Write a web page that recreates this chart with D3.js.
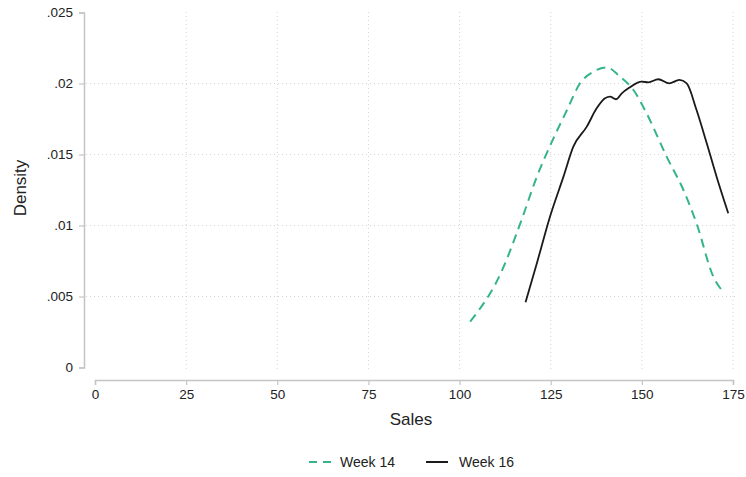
<!DOCTYPE html>
<html>
<head>
<meta charset="utf-8">
<script src="https://cdn.jsdelivr.net/npm/d3@7"></script>
<style>
body { margin: 0; background: #fff; }
text { font-family: "Liberation Sans", Arial, sans-serif; }
</style>
</head>
<body>
<svg id="chart"></svg>
<script>
var xTicks = [0, 25, 50, 75, 100, 125, 150, 175];
var yTicks = [0, 0.005, 0.01, 0.015, 0.02, 0.025];
var yTickLabels = ["0", ".005", ".01", ".015", ".02", ".025"];

var week14Sales = [102.9, 111.5, 117.0, 121.2, 124.8, 129.4, 133.0, 136.7, 140.4, 144.0, 147.7, 151.3, 156.8, 161.4, 165.0, 169.6, 172.5];
var week14Density = [0.00323, 0.00675, 0.01039, 0.01344, 0.0156, 0.0181, 0.0200, 0.02083, 0.02114, 0.02048, 0.01954, 0.0179, 0.01485, 0.0125, 0.01015, 0.0064, 0.00527];

var week16Sales = [118.1, 121.2, 124.8, 128.5, 131.2, 134.9, 137.6, 139.9, 141.3, 142.9, 144.5, 146.3, 150.0, 151.8, 154.5, 157.5, 160.3, 162.3, 165.0, 167.8, 170.5, 173.7];
var week16Density = [0.00459, 0.00734, 0.01062, 0.01344, 0.01555, 0.01696, 0.01825, 0.01896, 0.01907, 0.01889, 0.01931, 0.01966, 0.02013, 0.02008, 0.0203, 0.02001, 0.02025, 0.02001, 0.01813, 0.01579, 0.01344, 0.01086];

function drawChart() {
    var width = 746, height = 477;
    var svg = d3.select("#chart").attr("width", width).attr("height", height);

    var x = d3.scaleLinear().domain([0, 175]).range([95, 733]);
    var y = d3.scaleLinear().domain([0, 0.025]).range([367.5, 12.5]);

    var axisColor = "#c4c4c4";
    var gridColor = "#d4d4d4";

    // grid
    svg.append("g").selectAll("line").data(yTicks.slice(1, 5)).enter().append("line")
        .attr("x1", 86).attr("x2", 736)
        .attr("y1", function(d) { return y(d); }).attr("y2", function(d) { return y(d); })
        .attr("stroke", gridColor).attr("stroke-width", 1).attr("stroke-dasharray", "1,3");
    svg.append("g").selectAll("line").data(xTicks.slice(1)).enter().append("line")
        .attr("x1", function(d) { return x(d); }).attr("x2", function(d) { return x(d); })
        .attr("y1", 12).attr("y2", 370)
        .attr("stroke", gridColor).attr("stroke-width", 1).attr("stroke-dasharray", "1,3");

    // y axis
    var yAxis = d3.axisLeft(y).tickValues(yTicks)
        .tickFormat(function(d, i) { return yTickLabels[i]; })
        .tickSize(5).tickPadding(6);
    var gy = svg.append("g").attr("transform", "translate(84,0)").call(yAxis);

    // x axis
    var xAxis = d3.axisBottom(x).tickValues(xTicks).tickSize(5).tickPadding(4);
    var gx = svg.append("g").attr("transform", "translate(0,380)").call(xAxis);

    [gx, gy].forEach(function(g) {
        g.select(".domain").attr("stroke", axisColor).attr("stroke-width", 1.5);
        g.selectAll(".tick line").attr("stroke", axisColor).attr("stroke-width", 1.2);
        g.selectAll(".tick text").attr("fill", "#222").attr("font-size", 13.5)
            .style("font-family", "'Liberation Sans', Arial, sans-serif");
    });

    // axis titles
    svg.append("text").attr("x", 411).attr("y", 425).attr("text-anchor", "middle")
        .attr("font-size", 17).attr("fill", "#222").text("Sales");
    svg.append("text").attr("transform", "translate(26,188) rotate(-90)").attr("text-anchor", "middle")
        .attr("font-size", 17).attr("fill", "#222").text("Density");

    var line = d3.line()
        .x(function(d) { return x(d[0]); })
        .y(function(d) { return y(d[1]); })
        .curve(d3.curveMonotoneX);

    var w14 = week14Sales.map(function(s, i) { return [s, week14Density[i]]; });
    var w16 = week16Sales.map(function(s, i) { return [s, week16Density[i]]; });

    svg.append("path").attr("d", line(w14)).attr("fill", "none")
        .attr("stroke", "#35b38c").attr("stroke-width", 2).attr("stroke-dasharray", "9,6");
    svg.append("path").attr("d", line(w16)).attr("fill", "none")
        .attr("stroke", "#1a1a1a").attr("stroke-width", 1.8);

    // legend
    var lg = svg.append("g");
    lg.append("line").attr("x1", 309).attr("x2", 331).attr("y1", 462).attr("y2", 462)
        .attr("stroke", "#35b38c").attr("stroke-width", 2).attr("stroke-dasharray", "8,6");
    lg.append("text").attr("x", 340).attr("y", 467).attr("font-size", 14).attr("fill", "#222").text("Week 14");
    lg.append("line").attr("x1", 426).attr("x2", 448).attr("y1", 462).attr("y2", 462)
        .attr("stroke", "#1a1a1a").attr("stroke-width", 2);
    lg.append("text").attr("x", 459).attr("y", 467).attr("font-size", 14).attr("fill", "#222").text("Week 16");
}

drawChart();
</script>
</body>
</html>
